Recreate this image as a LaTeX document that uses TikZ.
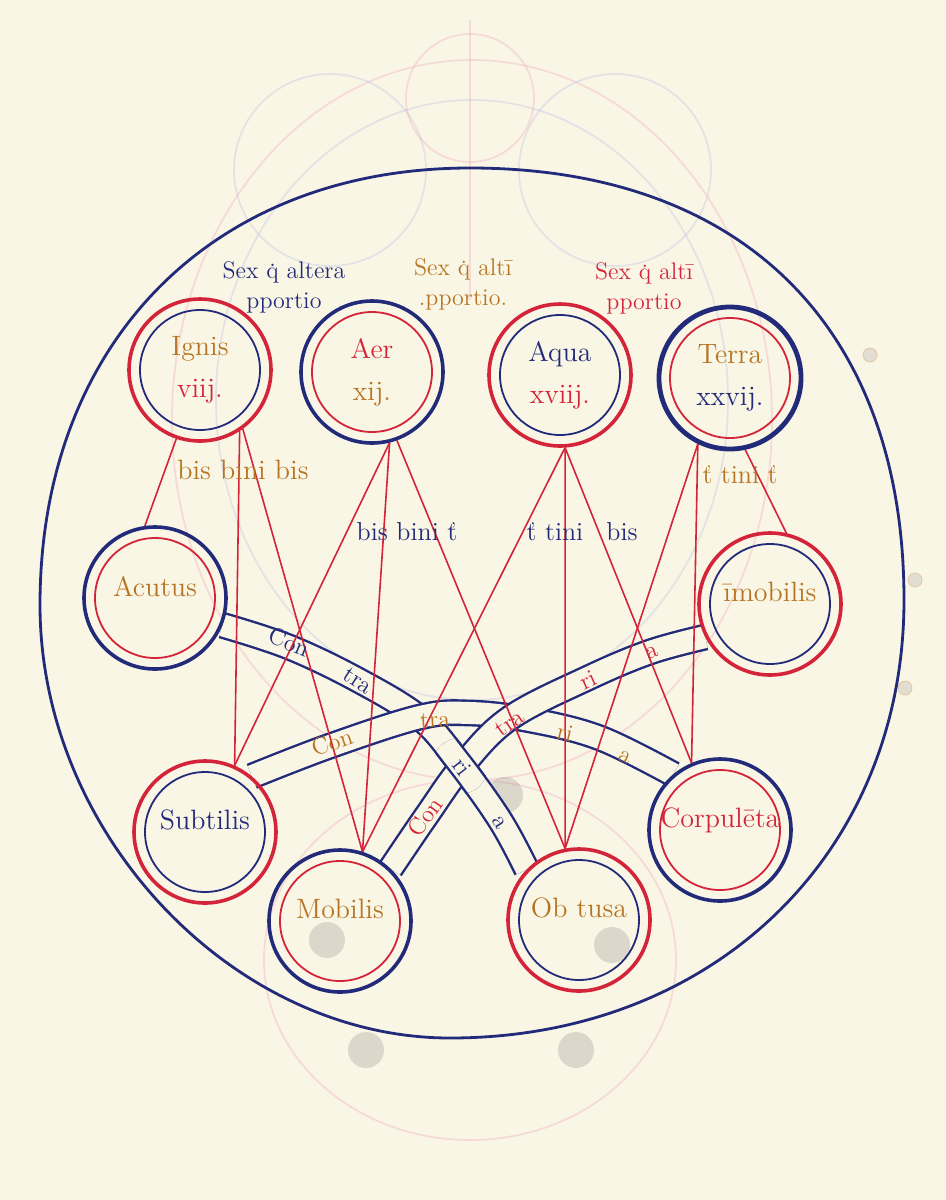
\documentclass[tikz,border=0pt]{standalone}
\usepackage{fontspec}
\usepackage{xcolor}
\usetikzlibrary{backgrounds}
\definecolor{paper}{RGB}{250,246,229}
\definecolor{inkblue}{RGB}{34,42,122}
\definecolor{inkred}{RGB}{212,36,58}
\definecolor{inkgold}{RGB}{182,116,34}
\definecolor{ghostpink}{RGB}{238,176,196}
\definecolor{ghostblue}{RGB}{196,198,228}
\newcommand{\qd}{\ooalign{q\cr\hidewidth\raisebox{.5em}{.}\hidewidth\cr}}
\newcommand{\up}[1]{\raisebox{12pt}{#1}}
\tikzset{ring/.style={circle,draw=#1,line width=1.8pt,minimum size=71pt,inner sep=0pt,align=center,
    font=\fontsize{14}{21}\selectfont},
  tie/.style={inkred,line width=0.8pt},
  band/.style={draw=inkblue,line width=1.2pt,double=paper,double distance=11pt},
  bandtext/.style={font=\fontsize{12}{12}\selectfont,inner sep=0pt},
  ratio/.style={font=\fontsize{12}{15}\selectfont,align=center,inner sep=0pt},
  count/.style={font=\fontsize{13}{13}\selectfont,inner sep=0pt},
  ghost/.style={line width=0.9pt,opacity=0.4}}

\begin{document}
\begin{tikzpicture}[x=0.5pt,y=-0.5pt]
\useasboundingbox (0,0) rectangle (946,1200);

% the ten circles
\node[ring=inkred] (ignis) at (200,370) {{\color{inkgold}Ignis}\\{\color{inkred}viij.}};
\node[ring=inkblue] (aer) at (372,372) {{\color{inkred}Aer}\\{\color{inkgold}xij.}};
\node[ring=inkred] (aqua) at (560,375) {{\color{inkblue}Aqua}\\{\color{inkred}xviij.}};
\node[ring=inkblue,line width=2.4pt] (terra) at (730,378) {{\color{inkgold}Terra}\\{\color{inkblue}xxvij.}};
\node[ring=inkblue,text=inkgold] (acutus) at (155,598) {\up{Acutus}};
\node[ring=inkred,text=inkgold] (imobilis) at (770,604) {\up{īmobilis}};
\node[ring=inkred,text=inkblue] (subtilis) at (205,832) {\up{Subtilis}};
\node[ring=inkblue,text=inkred] (corpulenta) at (720,830) {\up{Corpulēta}};
\node[ring=inkblue,text=inkgold] (mobilis) at (340,921) {\up{Mobilis}};
\node[ring=inkred,text=inkgold] (obtusa) at (579,920) {\up{Ob tusa}};

% inner circles
\foreach \n/\c in {ignis/inkblue,aer/inkred,aqua/inkblue,terra/inkred,acutus/inkred,
    imobilis/inkblue,subtilis/inkblue,corpulenta/inkred,mobilis/inkred,obtusa/inkblue}
  \draw[\c,line width=0.9pt] (\n.center) circle[radius=30pt];

\begin{scope}[on background layer]
\fill[paper] (0,0) rectangle (946,1200);
% ghost of the other side of the leaf
\draw[ghost,ghostpink] (472,420) ellipse[x radius=150pt,y radius=180pt];
\draw[ghost,ghostblue] (472,400) ellipse[x radius=128pt,y radius=150pt];
\draw[ghost,ghostblue] (330,170) circle[radius=48pt];
\draw[ghost,ghostblue] (615,170) circle[radius=48pt];
\draw[ghost,ghostpink] (470,98) circle[radius=32pt];
\draw[ghost,ghostpink] (470,20) -- (470,300);
\draw[ghost,ghostpink] (470,960) ellipse[x radius=103pt,y radius=90pt];
\foreach \x/\y in {327/940,612/945,366/1050,576/1050,505/795}
  \fill[gray,opacity=0.25] (\x,\y) circle[radius=9pt];
\foreach \x/\y in {870/355,915/580,905/688}
  \draw[inkgold!40,fill=paper!80!gray] (\x,\y) circle[radius=3.5pt];

% outer ring
\draw[inkblue,line width=1.4pt] (470,168) .. controls (743,168) and (904,328) .. (904,600)
  .. controls (904,854) and (713,1038) .. (450,1038)
  .. controls (233,1038) and (40,834) .. (40,605)
  .. controls (40,343) and (212,168) .. (470,168) -- cycle;

% the three contraria
\draw[band] plot[smooth,tension=0.6] coordinates {(acutus.-22) (289,647) (358,680)
  (420,718) (457,760) (500,820) (obtusa.136)};
\draw[band] plot[smooth,tension=0.6] coordinates {(subtilis.50) (330,746) (420,717)
  (470,713) (530,720) (600,738) (corpulenta.130)};
\draw[band] plot[smooth,tension=0.6] coordinates {(mobilis.46) (427,815) (463,765)
  (510,718) (588,678) (650,652) (imobilis.-153)};
\begin{scope}
\clip (460,766) circle[radius=14pt];
\draw[band] plot[smooth,tension=0.6] coordinates {(acutus.-22) (289,647) (358,680)
  (420,718) (457,760) (500,820) (obtusa.136)};
\end{scope}

% red ties from the elements to their qualities
\foreach \a/\b in {ignis.-109/acutus.98,ignis.-57/subtilis.66,ignis.-54/mobilis.72,
    aer.-76/subtilis.66,aer.-76/mobilis.72,aer.-70/obtusa.101,
    aqua.-86/mobilis.72,aqua.-86/obtusa.101,aqua.-86/corpulenta.113,
    terra.-116/obtusa.101,terra.-116/corpulenta.113,terra.-78/imobilis.77}
  \draw[tie] (\a) -- (\b);
\end{scope}

% words on the bands
\node[bandtext,inkblue,rotate=-22] (c1) at (289,642) {Con};
\node[bandtext,inkblue,rotate=-33] (c2) at (358,681) {tra};
\node[bandtext,inkblue,rotate=-52] (c3) at (462,767) {ri};
\node[bandtext,inkblue,rotate=-58] (c4) at (499,823) {a};
\node[bandtext,inkgold,rotate=19] (d1) at (332,742) {Con};
\node[bandtext,inkgold,rotate=4] (d2) at (435,720) {tra};
\node[bandtext,inkgold,rotate=-14] (d3) at (565,733) {ri};
\node[bandtext,inkgold,rotate=-25] (d4) at (625,757) {a};
\node[bandtext,inkred,rotate=55] (e1) at (425,817) {Con};
\node[bandtext,inkred,rotate=35] (e2) at (510,723) {tra};
\node[bandtext,inkred,rotate=25] (e3) at (588,680) {ri};
\node[bandtext,inkred,rotate=19] (e4) at (652,653) {a};

% proportions over the elements
\node[ratio,inkblue] (r1) at (284,287) {Sex \qd\ altera\\pportio};
\node[ratio,inkgold] (r2) at (463,284) {Sex \qd\ altī\\.pportio.};
\node[ratio,inkred] (r3) at (644,288) {Sex \qd\ altī\\pportio};

% counts on the ties
\node[count,inkgold,font=\fontsize{14}{14}\selectfont] (n1) at (243,470) {bis bini bis};
\node[count,inkblue] (n2) at (407,532) {bis bini ť};
\node[count,inkblue] (n3) at (555,532) {ť tini};
\node[count,inkblue] (n4) at (622,532) {bis};
\node[count,inkgold] (n5) at (740,475) {ť tini ť};
\end{tikzpicture}
\end{document}
